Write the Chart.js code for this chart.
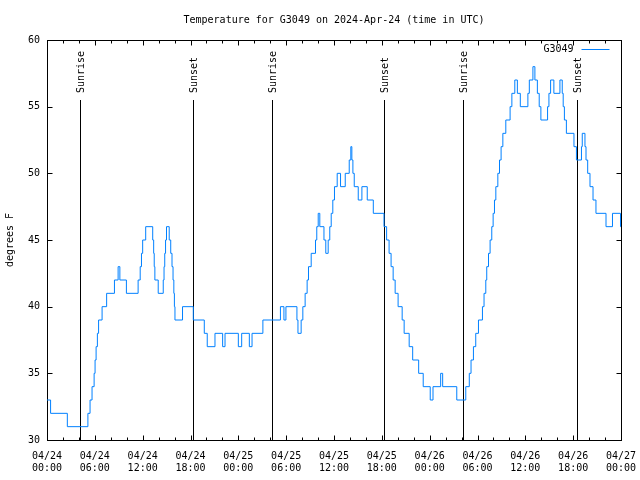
<!DOCTYPE html>
<html>
<head>
<meta charset="utf-8">
<title>Temperature for G3049</title>
<script src="https://cdn.jsdelivr.net/npm/chart.js@4.4.1/dist/chart.umd.min.js"></script>
<style>
  html, body { margin: 0; padding: 0; background: #fff; }
</style>
</head>
<body>
<canvas id="tempChart" width="640" height="480"></canvas>
<script>
// Hours since 04/24 00:00 UTC at which the reading changes, and the new reading (deg F)
const hours = [
  0, 0.45, 2.55, 5.13, 5.40, 5.65, 5.91, 6.03, 6.16, 6.32, 6.47, 6.91, 7.48, 8.46, 8.92, 9.14, 9.96,
  11.43, 11.69, 11.85, 12.00, 12.38, 13.26, 13.38, 13.45, 13.53, 13.95, 14.58, 14.68, 14.77, 14.87, 14.99,
  15.33, 15.52, 15.68, 15.81, 15.91, 15.98, 16.05, 17.00, 18.35, 19.73, 20.10, 21.07, 22.03, 22.33,
  24.00, 24.42, 25.38, 25.72, 27.08, 29.28, 29.72, 29.97, 31.35, 31.48, 31.88, 32.09, 32.38, 32.63, 32.80,
  33.14, 33.68, 33.84, 34.02, 34.22, 34.74, 34.97, 35.27, 35.47, 35.65, 35.85, 36.06, 36.40, 36.82, 37.41,
  37.91, 38.11, 38.24, 38.37, 38.54, 39.04, 39.50, 40.17, 40.93, 42.27, 42.60, 42.91, 43.16, 43.42, 43.67,
  44.04, 44.55, 44.80, 45.43, 45.87, 46.62, 47.19, 48.07, 48.42, 49.38, 49.63, 51.40, 52.53, 52.97, 53.19,
  53.49, 53.78, 54.12, 54.62, 54.82, 55.04, 55.16, 55.38, 55.58, 55.79, 55.96, 56.13, 56.30, 56.55, 56.76,
  56.96, 57.18, 57.55, 58.09, 58.31, 58.68, 59.00, 59.37, 60.32, 60.50, 60.95, 61.20, 61.51, 61.74, 61.95,
  62.79, 62.96, 63.17, 63.58, 64.34, 64.63, 64.75, 64.90, 65.15, 66.10, 66.41, 67.04, 67.14, 67.48, 67.61,
  67.82, 68.11, 68.49, 68.86, 70.12, 70.93, 71.94, 72.00
];
const temps = [
  33, 32, 31, 32, 33, 34, 35, 36, 37, 38, 39, 40, 41, 42, 43, 42, 41,
  42, 43, 44, 45, 46, 45, 44, 43, 42, 41, 42, 43, 44, 45, 46,
  45, 44, 43, 42, 41, 40, 39, 40, 39, 38, 37, 38, 37, 38,
  37, 38, 37, 38, 39, 40, 39, 40, 39, 38, 39, 40, 41, 42, 43,
  44, 45, 46, 47, 46, 45, 44, 45, 46, 47, 48, 49, 50, 49, 50,
  51, 52, 51, 50, 49, 48, 49, 48, 47, 46, 45, 44, 43, 42, 41,
  40, 39, 38, 37, 36, 35, 34, 33, 34, 35, 34, 33, 34, 35, 36,
  37, 38, 39, 40, 41, 42, 43, 44, 45, 46, 47, 48, 49, 50, 51,
  52, 53, 54, 55, 56, 57, 56, 55, 56, 57, 58, 57, 56, 55, 54,
  55, 56, 57, 56, 57, 56, 55, 54, 53, 52, 51, 52, 53, 52, 51,
  50, 49, 48, 47, 46, 47, 46, 46
];

// Sunrise / sunset markers (hours since 04/24 00:00 UTC)
const sunHours = [4.14, 18.35, 28.27, 42.32, 52.23, 66.50];
const sunLabels = ['Sunrise', 'Sunset', 'Sunrise', 'Sunset', 'Sunrise', 'Sunset'];

// x tick labels, one every 6 hours
const tickHours = [0, 6, 12, 18, 24, 30, 36, 42, 48, 54, 60, 66, 72];
const tickDates = ['04/24', '04/24', '04/24', '04/24', '04/25', '04/25', '04/25', '04/25',
                   '04/26', '04/26', '04/26', '04/26', '04/27'];
const tickTimes = ['00:00', '06:00', '12:00', '18:00', '00:00', '06:00', '12:00', '18:00',
                   '00:00', '06:00', '12:00', '18:00', '00:00'];

const FONT_FAMILY = "'DejaVu Sans Mono', monospace";
const LINE_BLUE = 'rgb(0, 128, 255)';

Chart.defaults.color = '#000';
Chart.defaults.font.family = FONT_FAMILY;
Chart.defaults.font.size = 10;

// gnuplot-like frame: border, inward ticks on all sides, sun markers and legend
const framePlugin = {
  id: 'frame',
  beforeDatasetsDraw(chart) {
    const { ctx, chartArea: a, scales: { x, y } } = chart;
    const L = Math.round(a.left) + 0.5, R = Math.round(a.right) + 0.5;
    const T = Math.round(a.top) + 0.5, B = Math.round(a.bottom) + 0.5;
    ctx.save();
    ctx.strokeStyle = '#000';
    ctx.lineWidth = 1;
    ctx.strokeRect(L, T, R - L, B - T);
    ctx.beginPath();
    for (let h = 0; h <= 72; h += 2) {
      const px = Math.round(x.getPixelForValue(h)) + 0.5;
      const len = h % 6 === 0 ? 5 : 3;
      ctx.moveTo(px, B); ctx.lineTo(px, B - len);
      ctx.moveTo(px, T); ctx.lineTo(px, T + len);
    }
    y.ticks.forEach(t => {
      const py = Math.round(y.getPixelForValue(t.value)) + 0.5;
      ctx.moveTo(L, py); ctx.lineTo(L + 5, py);
      ctx.moveTo(R, py); ctx.lineTo(R - 5, py);
    });
    ctx.stroke();

    // sunrise / sunset lines with rotated labels
    ctx.beginPath();
    sunHours.forEach(h => {
      const px = Math.round(x.getPixelForValue(h)) + 0.5;
      ctx.moveTo(px, a.top + 60);
      ctx.lineTo(px, B);
    });
    ctx.stroke();
    ctx.font = '10px ' + FONT_FAMILY;
    ctx.fillStyle = '#000';
    ctx.textAlign = 'left';
    ctx.textBaseline = 'middle';
    sunHours.forEach((h, i) => {
      const px = Math.round(x.getPixelForValue(h)) + 1;
      ctx.save();
      ctx.translate(px, a.top + 53);
      ctx.rotate(-Math.PI / 2);
      ctx.fillText(sunLabels[i], 0, 0);
      ctx.restore();
    });

    // legend
    ctx.textAlign = 'right';
    ctx.fillText(chart.data.datasets[0].label, R - 48, T + 9);
    ctx.strokeStyle = LINE_BLUE;
    ctx.beginPath();
    ctx.moveTo(R - 40, T + 9);
    ctx.lineTo(R - 12, T + 9);
    ctx.stroke();
    ctx.restore();
  }
};

new Chart(document.getElementById('tempChart'), {
  type: 'line',
  data: {
    datasets: [{
      label: 'G3049',
      data: hours.map((h, i) => ({ x: h, y: temps[i] })),
      borderColor: LINE_BLUE,
      borderWidth: 1,
      pointRadius: 0,
      stepped: 'before',
      fill: false
    }]
  },
  options: {
    responsive: false,
    animation: false,
    layout: { padding: { left: 0, right: 19, top: 0, bottom: 0 } },
    plugins: {
      legend: { display: false },
      tooltip: { enabled: false },
      title: {
        display: true,
        text: 'Temperature for G3049 on 2024-Apr-24 (time in UTC)',
        fullSize: false,
        color: '#000',
        font: { family: FONT_FAMILY, size: 10, weight: 'normal' },
        padding: { top: 14, bottom: 14 }
      }
    },
    scales: {
      x: {
        type: 'linear',
        min: 0,
        max: 72,
        afterFit(scale) {
          scale.height = 40;
          scale.paddingLeft = 0;
          scale.paddingRight = 0;
        },
        grid: { display: false, drawTicks: false },
        border: { display: false },
        ticks: {
          stepSize: 6,
          autoSkip: false,
          maxRotation: 0,
          padding: 10,
          font: { family: FONT_FAMILY, size: 10, lineHeight: 1.25 },
          callback(v) {
            const i = tickHours.indexOf(v);
            return i < 0 ? '' : [tickDates[i], tickTimes[i]];
          }
        }
      },
      y: {
        min: 30,
        max: 60,
        afterFit(scale) { scale.width = 47; },
        grid: { display: false, drawTicks: false },
        border: { display: false },
        ticks: { stepSize: 5, padding: 7, font: { family: FONT_FAMILY, size: 10 } },
        title: {
          display: true,
          text: 'degrees F',
          font: { family: FONT_FAMILY, size: 10 },
          padding: { top: 4, bottom: 0 }
        }
      }
    }
  },
  plugins: [framePlugin]
});
</script>
</body>
</html>
